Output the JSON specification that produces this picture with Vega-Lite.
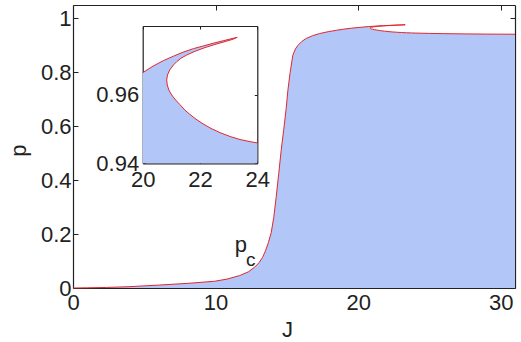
{
  "$schema": "https://vega.github.io/schema/vega-lite/v6.json",
  "width": 442,
  "height": 283,
  "autosize": {"type": "none"},
  "padding": {"left": 73, "top": 5, "right": 6, "bottom": 54},
  "background": "white",
  "config": {
    "view": {"stroke": null},
    "font": "Liberation Sans",
    "axis": {
      "grid": false,
      "labelFlush": false,
      "domainColor": "#222222",
      "domainWidth": 1.2,
      "tickColor": "#222222",
      "tickWidth": 1,
      "labelColor": "#222222",
      "titleColor": "#222222",
      "labelFont": "Liberation Sans",
      "titleFont": "Liberation Sans",
      "labelFontSize": 22,
      "titleFontSize": 22,
      "titleFontWeight": "normal",
      "format": "~r"
    }
  },
  "datasets": {
    "curve": [
      {"i": 0, "J": 0, "p": 0},
      {"i": 1, "J": 1, "p": 0.0007},
      {"i": 2, "J": 2.34, "p": 0.002},
      {"i": 3, "J": 4, "p": 0.005},
      {"i": 4, "J": 6.07, "p": 0.011},
      {"i": 5, "J": 8, "p": 0.017},
      {"i": 6, "J": 9.93, "p": 0.025},
      {"i": 7, "J": 10.8, "p": 0.033},
      {"i": 8, "J": 11.68, "p": 0.046},
      {"i": 9, "J": 12.3, "p": 0.06},
      {"i": 10, "J": 12.73, "p": 0.077},
      {"i": 11, "J": 13.05, "p": 0.094},
      {"i": 12, "J": 13.3, "p": 0.114},
      {"i": 13, "J": 13.5, "p": 0.138},
      {"i": 14, "J": 13.7, "p": 0.168},
      {"i": 15, "J": 13.9, "p": 0.205},
      {"i": 16, "J": 14.08, "p": 0.262},
      {"i": 17, "J": 14.25, "p": 0.337},
      {"i": 18, "J": 14.43, "p": 0.425},
      {"i": 19, "J": 14.6, "p": 0.51},
      {"i": 20, "J": 14.78, "p": 0.588},
      {"i": 21, "J": 14.95, "p": 0.665},
      {"i": 22, "J": 15.07, "p": 0.733},
      {"i": 23, "J": 15.23, "p": 0.8},
      {"i": 24, "J": 15.42, "p": 0.864},
      {"i": 25, "J": 15.6, "p": 0.887},
      {"i": 26, "J": 15.77, "p": 0.9},
      {"i": 27, "J": 16.05, "p": 0.915},
      {"i": 28, "J": 16.36, "p": 0.926},
      {"i": 29, "J": 16.8, "p": 0.936},
      {"i": 30, "J": 17.29, "p": 0.944},
      {"i": 31, "J": 17.9, "p": 0.951},
      {"i": 32, "J": 18.46, "p": 0.956},
      {"i": 33, "J": 19.0, "p": 0.9605},
      {"i": 34, "J": 19.5, "p": 0.9638},
      {"i": 35, "J": 20.0, "p": 0.9664},
      {"i": 36, "J": 20.36, "p": 0.9683},
      {"i": 37, "J": 20.72, "p": 0.9699},
      {"i": 38, "J": 21.07, "p": 0.9712},
      {"i": 39, "J": 21.42, "p": 0.9724},
      {"i": 40, "J": 21.77, "p": 0.9734},
      {"i": 41, "J": 22.12, "p": 0.9742},
      {"i": 42, "J": 22.47, "p": 0.975},
      {"i": 43, "J": 22.81, "p": 0.9757},
      {"i": 44, "J": 23.05, "p": 0.9762},
      {"i": 45, "J": 23.3, "p": 0.9767},
      {"i": 46, "J": 23.152, "p": 0.97615},
      {"i": 47, "J": 22.873, "p": 0.97546},
      {"i": 48, "J": 22.524, "p": 0.97464},
      {"i": 49, "J": 22.175, "p": 0.97371},
      {"i": 50, "J": 21.825, "p": 0.97263},
      {"i": 51, "J": 21.536, "p": 0.97155},
      {"i": 52, "J": 21.337, "p": 0.97062},
      {"i": 53, "J": 21.187, "p": 0.9696},
      {"i": 54, "J": 21.073, "p": 0.96864},
      {"i": 55, "J": 20.942, "p": 0.96718},
      {"i": 56, "J": 20.864, "p": 0.96572},
      {"i": 57, "J": 20.838, "p": 0.96427},
      {"i": 58, "J": 20.857, "p": 0.96281},
      {"i": 59, "J": 20.914, "p": 0.96135},
      {"i": 60, "J": 21.012, "p": 0.9599},
      {"i": 61, "J": 21.148, "p": 0.95845},
      {"i": 62, "J": 21.302, "p": 0.95708},
      {"i": 63, "J": 21.476, "p": 0.95547},
      {"i": 64, "J": 21.651, "p": 0.95422},
      {"i": 65, "J": 21.86, "p": 0.95285},
      {"i": 66, "J": 22.105, "p": 0.9515},
      {"i": 67, "J": 22.384, "p": 0.95016},
      {"i": 68, "J": 22.7, "p": 0.94893},
      {"i": 69, "J": 23.051, "p": 0.9478},
      {"i": 70, "J": 23.4, "p": 0.94692},
      {"i": 71, "J": 23.749, "p": 0.94631},
      {"i": 72, "J": 24.0, "p": 0.94593},
      {"i": 73, "J": 25.0, "p": 0.9446},
      {"i": 74, "J": 26.0, "p": 0.9437},
      {"i": 75, "J": 27.5, "p": 0.9428},
      {"i": 76, "J": 29.0, "p": 0.9421},
      {"i": 77, "J": 31.0, "p": 0.9415}
    ],
    "label": [{"name": "p_c"}]
  },
  "layer": [
    {
      "data": {"name": "curve"},
      "layer": [
        {
          "mark": {"type": "area", "fill": "#B2C6F8", "opacity": 1},
          "encoding": {
            "x": {
              "field": "J", "type": "quantitative",
              "scale": {"domain": [0, 31], "nice": false, "zero": false},
              "axis": {"orient": "bottom", "values": [0, 10, 20, 30], "tickSize": -5, "labelPadding": 9,
                       "title": "J", "titleX": 214, "titleY": 48, "titleBaseline": "alphabetic", "titleAlign": "center"}
            },
            "y": {
              "field": "p", "type": "quantitative", "stack": null,
              "scale": {"domain": [0, 1.05], "nice": false, "zero": false},
              "axis": {"orient": "left", "values": [0, 0.2, 0.4, 0.6, 0.8, 1], "tickSize": -5, "labelPadding": 7,
                       "title": "p", "titleX": -48, "titleY": 145, "titleAngle": -90, "titleBaseline": "alphabetic", "titleAlign": "center"}
            },
            "order": {"value": null}
          }
        },
        {
          "mark": {"type": "line", "color": "#E3262C", "strokeWidth": 1},
          "encoding": {
            "x": {
              "field": "J", "type": "quantitative",
              "axis": {"orient": "top", "values": [0, 10, 20, 30], "tickSize": -5, "labels": false, "title": null}
            },
            "y": {
              "field": "p", "type": "quantitative",
              "axis": {"orient": "right", "values": [0, 0.2, 0.4, 0.6, 0.8, 1], "tickSize": -5, "labels": false, "title": null}
            },
            "order": {"field": "i"}
          }
        },
        {
          "data": {"name": "label"},
          "mark": {"type": "text", "text": "p", "fontSize": 22, "align": "center", "baseline": "alphabetic", "color": "#222222"},
          "encoding": {
            "x": {"datum": 11.77, "type": "quantitative", "axis": null},
            "y": {"datum": 0.132, "type": "quantitative", "axis": null}
          }
        },
        {
          "data": {"name": "label"},
          "mark": {"type": "text", "text": "c", "fontSize": 19, "align": "center", "baseline": "alphabetic", "color": "#222222"},
          "encoding": {
            "x": {"datum": 12.47, "type": "quantitative", "axis": null},
            "y": {"datum": 0.083, "type": "quantitative", "axis": null}
          }
        }
      ],
      "resolve": {"axis": {"x": "independent", "y": "independent"}}
    },
    {
      "data": {"name": "curve"},
      "transform": [{"filter": "datum.J >= 20 && datum.J <= 24"}],
      "layer": [
        {
          "mark": {"type": "area", "fill": "#B2C6F8", "opacity": 1},
          "encoding": {
            "x": {
              "field": "J", "type": "quantitative",
              "scale": {"domain": [20, 24], "range": [69.7, 184.3], "nice": false, "zero": false},
              "axis": {"orient": "bottom", "offset": -124.7, "values": [20, 22, 24], "tickSize": -3, "labelPadding": 9, "title": null}
            },
            "y": {
              "field": "p", "type": "quantitative", "stack": null,
              "scale": {"domain": [0.94, 0.98], "range": [158.3, 21], "nice": false, "zero": false},
              "axis": {"orient": "left", "offset": -69.7, "values": [0.94, 0.96], "tickSize": -3, "labelPadding": 7, "title": null}
            },
            "y2": {"datum": 0.94},
            "order": {"value": null}
          }
        },
        {
          "mark": {"type": "line", "color": "#E3262C", "strokeWidth": 1},
          "encoding": {
            "x": {
              "field": "J", "type": "quantitative",
              "axis": {"orient": "top", "offset": -21, "values": [20, 22, 24], "tickSize": -3, "labels": false, "title": null}
            },
            "y": {
              "field": "p", "type": "quantitative",
              "axis": {"orient": "right", "offset": -257.7, "values": [0.94, 0.96], "tickSize": -3, "labels": false, "title": null}
            },
            "order": {"field": "i"}
          }
        }
      ],
      "resolve": {"axis": {"x": "independent", "y": "independent"}}
    }
  ],
  "resolve": {
    "scale": {"x": "independent", "y": "independent"},
    "axis": {"x": "independent", "y": "independent"}
  }
}
